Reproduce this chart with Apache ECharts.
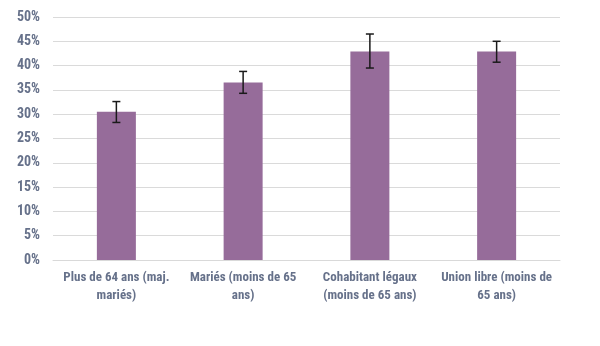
<!DOCTYPE html>
<html>
<head>
<meta charset="utf-8">
<script src="https://cdn.jsdelivr.net/npm/echarts@6/dist/echarts.min.js"></script>
<style>
  html, body { margin: 0; padding: 0; background: #fff; }
  #chart { width: 600px; height: 346px; }
</style>
</head>
<body>
<div id="chart"></div>
<script>
// Groups shown on the x axis
const categories = [
  'Plus de 64 ans (maj.\nmariés)',
  'Mariés (moins de 65\nans)',
  'Cohabitant légaux\n(moins de 65 ans)',
  'Union libre (moins de\n65 ans)'
];
// Share per group (%)
const values = [30.5, 36.5, 42.9, 42.9];
// Lower and upper ends of the error bars (%)
const errLow = [28.3, 34.3, 39.5, 40.7];
const errHigh = [32.6, 38.8, 46.5, 45.0];

const textColor = '#66718a';
const fontFam = '"Roboto Condensed", "Arial Narrow", Roboto, sans-serif';

const chart = echarts.init(document.getElementById('chart'));
chart.setOption({
  animation: false,
  grid: { left: 53, right: 40, top: 17, bottom: 86 },
  xAxis: {
    type: 'category',
    data: categories,
    axisTick: { show: false },
    axisLine: { lineStyle: { color: '#d9d9d9' } },
    axisLabel: {
      color: textColor, fontFamily: fontFam, fontSize: 13, fontWeight: 'bold',
      lineHeight: 18, margin: 9, interval: 0
    }
  },
  yAxis: {
    type: 'value',
    min: 0, max: 50, interval: 5,
    axisLine: { show: false },
    axisTick: { show: false },
    splitLine: { lineStyle: { color: '#dadada', width: 1 } },
    axisLabel: {
      formatter: '{value}%', color: textColor, fontFamily: fontFam,
      fontSize: 14, fontWeight: 'bold', margin: 13
    }
  },
  series: [
    {
      type: 'bar',
      data: values,
      barWidth: 39,
      itemStyle: { color: '#966c9a' }
    },
    {
      type: 'custom',
      data: categories.map((c, i) => [i, errLow[i], errHigh[i]]),
      z: 10,
      renderItem: function (params, api) {
        const x = api.value(0);
        const lo = api.coord([x, api.value(1)]);
        const hi = api.coord([x, api.value(2)]);
        const hw = 4;
        const style = { stroke: '#1a1a1a', lineWidth: 1.5 };
        return {
          type: 'group',
          children: [
            { type: 'line', shape: { x1: lo[0], y1: lo[1], x2: hi[0], y2: hi[1] }, style },
            { type: 'line', shape: { x1: lo[0] - hw, y1: lo[1], x2: lo[0] + hw, y2: lo[1] }, style },
            { type: 'line', shape: { x1: hi[0] - hw, y1: hi[1], x2: hi[0] + hw, y2: hi[1] }, style }
          ]
        };
      }
    }
  ]
});
</script>
</body>
</html>
